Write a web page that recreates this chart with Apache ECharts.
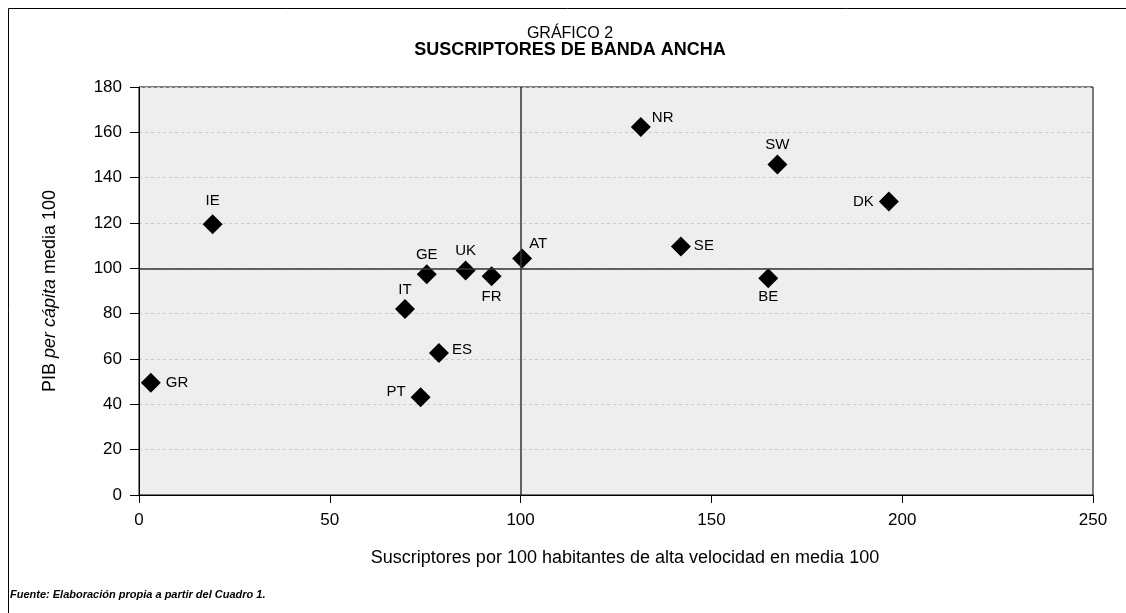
<!DOCTYPE html>
<html><head><meta charset="utf-8">
<script src="https://cdn.jsdelivr.net/npm/echarts@6/dist/echarts.min.js"></script>
<style>html,body{margin:0;padding:0;background:#fff}#c{width:1126px;height:613px}</style>
</head><body><div id="c"></div>
<script>
const countries = ['GR','IE','IT','GE','UK','FR','AT','ES','PT','NR','SW','DK','SE','BE'];
const subscribers = [3.1,19.3,69.7,75.4,85.6,92.4,100.4,78.6,73.8,131.5,167.3,196.5,142.0,164.9];
const gdpPerCapita = [49.5,119.5,82.1,97.4,99.0,96.5,104.3,62.6,43.1,162.3,145.8,129.5,109.6,95.6];
const labelPos = ['right','top','top','top','top','bottom','right','right','left','right','top','left','right','bottom'];
const labelDist = [5,6,2,2,2,3,5,3,5,5,2,5,3,1];
const labelOffset = [[0,0],[0,0],[0,0],[0,0],[0,0],[0,0],[-8,-15],[0,-3],[0,-5],[-4,-9],[0,0],[0,0],[0,-1],[0,0]];
const xTicks = [0,50,100,150,200,250];
const yTicks = [0,20,40,60,80,100,120,140,160,180];

const FONT = '"Liberation Sans", Arial, sans-serif';
const data = countries.map((c,i)=>({
  value:[subscribers[i], gdpPerCapita[i]], name:c,
  label:{position:labelPos[i], distance:labelDist[i], offset:labelOffset[i]}
}));

const chart = echarts.init(document.getElementById('c'), null, {renderer:'canvas'});
chart.setOption({
  animation:false,
  backgroundColor:'#fff',
  textStyle:{fontFamily:FONT},
  graphic:[
    {type:'polyline', shape:{points:[[8.5,613],[8.5,8.5],[1126,8.5]]}, style:{fill:'none',stroke:'#000',lineWidth:1}, z:-1},
    {type:'text', x:570, y:26, style:{text:'GRÁFICO 2', fontSize:16, fontFamily:FONT, fill:'#000', align:'center', verticalAlign:'top'}},
    {type:'text', x:570, y:41, style:{text:'SUSCRIPTORES DE BANDA ANCHA', fontSize:18, fontWeight:'bold', fontFamily:FONT, fill:'#000', align:'center', verticalAlign:'top'}},
    {type:'text', x:10, y:589, style:{text:'Fuente: Elaboración propia a partir del Cuadro 1.', fontSize:11, fontWeight:'bold', fontStyle:'italic', fontFamily:FONT, fill:'#000', verticalAlign:'top'}}
  ],
  grid:{left:139, right:33, top:87, bottom:118, backgroundColor:'#eeeeee', show:true, borderWidth:1, borderColor:'#000'},
  xAxis:{
    type:'value', min:0, max:250, interval:50,
    name:'Suscriptores por 100 habitantes de alta velocidad en media 100',
    nameLocation:'middle', nameGap:54,
    nameTextStyle:{fontSize:18, color:'#000', fontFamily:FONT, padding:[0,0,0,18]},
    axisLine:{show:true, onZero:false, lineStyle:{color:'#000', width:1}},
    axisTick:{show:true, length:8, lineStyle:{color:'#000'}},
    axisLabel:{fontSize:17, color:'#000', margin:17, fontFamily:FONT, formatter:v=>xTicks.includes(v)?String(v):''},
    splitLine:{show:false}
  },
  yAxis:{
    type:'value', min:0, max:180, interval:20,
    name:'{n|PIB }{i|per cápita}{n| media 100}',
    nameLocation:'middle', nameGap:80, nameRotate:90,
    nameTextStyle:{rich:{n:{fontSize:18,color:'#000',fontFamily:FONT},i:{fontSize:18,color:'#000',fontStyle:'italic',fontFamily:FONT}}},
    axisLine:{show:true, onZero:false, lineStyle:{color:'#000', width:1}},
    axisTick:{show:true, length:9, lineStyle:{color:'#000'}},
    axisLabel:{fontSize:17, color:'#000', margin:17, fontFamily:FONT, formatter:v=>yTicks.includes(v)?String(v):''},
    splitLine:{show:true, lineStyle:{color:'#c8c8c8', type:[3,3], width:1}}
  },
  series:[{
    type:'scatter',
    symbol:'diamond', symbolSize:[20,20],
    itemStyle:{color:'#000', opacity:1},
    label:{show:true, formatter:'{b}', fontSize:15, color:'#000', fontFamily:FONT},
    data,
    markLine:{
      silent:true, symbol:'none', label:{show:false},
      lineStyle:{color:'#333', type:'solid', width:1.5, opacity:1},
      data:[{xAxis:100},{yAxis:100}]
    },
    z:3
  }]
});
</script></body></html>
